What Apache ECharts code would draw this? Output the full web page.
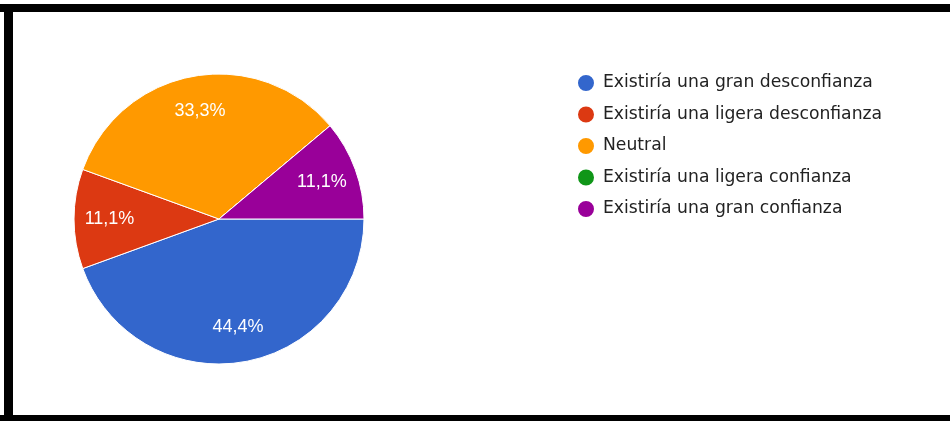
<!DOCTYPE html>
<html><head><meta charset="utf-8">
<script src="https://cdn.jsdelivr.net/npm/echarts@6/dist/echarts.min.js"></script>
<style>html,body{margin:0;padding:0;background:#fff}#c{width:950px;height:421px}</style>
</head><body><div id="c"></div>
<script>
const categories = ["Existiría una gran desconfianza","Existiría una ligera desconfianza","Neutral","Existiría una ligera confianza","Existiría una gran confianza"];
const counts = [4, 1, 3, 0, 1];
const colors = ["#3366cc","#dc3912","#ff9900","#109618","#990099"];

const total = counts.reduce((a,b)=>a+b,0);
const data = categories.map((n,i)=>({name:n, value:counts[i], itemStyle:{color:colors[i]}}));
const fmt = p => p.value ? (p.value/total*100).toFixed(1).replace('.', ',') + '%' : '';
const chart = echarts.init(document.getElementById('c'));
chart.setOption({
  animation:false,
  legend:{
    orient:'vertical', left:571, top:68, icon:'circle', itemWidth:18, itemHeight:18, itemGap:11.5,
    data:categories,
    textStyle:{fontFamily:'"DejaVu Sans", sans-serif', fontSize:17.2, color:'#222', padding:[0,0,0,3]}
  },
  graphic:[
    {type:'rect', shape:{x:0,y:4,width:950,height:8}, style:{fill:'#000'}, z:100},
    {type:'rect', shape:{x:4,y:4,width:9,height:417}, style:{fill:'#000'}, z:100},
    {type:'rect', shape:{x:0,y:415,width:950,height:6}, style:{fill:'#000'}, z:100}
  ],
  series:[
    {type:'pie', center:[219,219], radius:[0,145], startAngle:0, clockwise:true,
     data:data, label:{show:false}, labelLine:{show:false},
     itemStyle:{borderColor:'#fff', borderWidth:1}},
    {type:'pie', center:[219,219], radius:[68,145], startAngle:0, clockwise:true, silent:true,
     data:categories.map((n,i)=>({name:n, value:counts[i]})),
     itemStyle:{color:'rgba(0,0,0,0)'}, legendHoverLink:false,
     label:{show:true, position:'inside', formatter:fmt, color:'#fff',
       fontFamily:'Arial, "Liberation Sans", sans-serif', fontSize:18}, labelLine:{show:false}}
  ]
});
</script></body></html>
